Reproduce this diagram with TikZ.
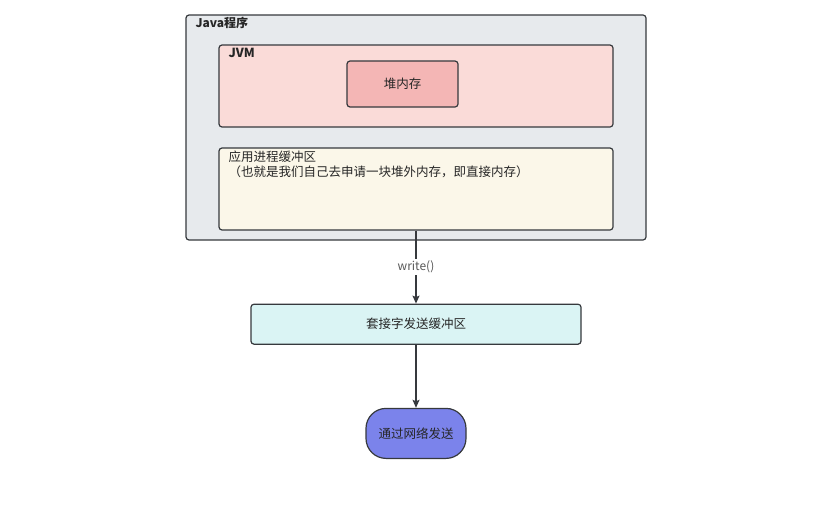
\documentclass[tikz,border=0pt]{standalone}
\usepackage{fontspec}
\setmainfont{Noto Sans CJK SC}
\usetikzlibrary{arrows.meta,positioning}
\definecolor{edge}{HTML}{36393D}
\definecolor{progfill}{HTML}{E7EAED}
\definecolor{jvmfill}{HTML}{FADBD8}
\definecolor{heapfill}{HTML}{F4B6B5}
\definecolor{appfill}{HTML}{FBF7E9}
\definecolor{sockfill}{HTML}{DAF4F4}
\definecolor{netfill}{HTML}{7B83EB}

\begin{document}
\begin{tikzpicture}[x=1pt, y=-1pt,
  box/.style={draw=edge, line width=1.2pt, rounded corners=3pt, inner sep=0pt, font=\fontsize{12.5}{15}\selectfont, text=black!85},
  lbl/.style={font=\fontsize{12.5}{15}\selectfont, text=black!85, align=left, inner sep=0pt},
  flow/.style={-{Stealth[length=8pt,width=7pt,inset=1.5pt]}, draw=edge, line width=1.2pt}]
\useasboundingbox (0,0) rectangle (838,514);
\node[box, fill=progfill, minimum width=460pt, minimum height=225pt] (prog) at (416,127.5) {};
\node[box, fill=jvmfill, minimum width=394pt, minimum height=82pt] (jvm) at (416,86) {};
\node[box, fill=heapfill, minimum width=111pt, minimum height=46pt] (heap) at (402.5,84) {堆内存};
\node[box, fill=appfill, minimum width=394pt, minimum height=82pt] (app) at (416,189) {};
\node[box, fill=sockfill, minimum width=330pt, minimum height=40pt, below=73pt of app] (sock) {套接字发送缓冲区};
\node[box, fill=netfill, rounded corners=20pt, minimum width=100pt, minimum height=50pt, below=63pt of sock] (net) {通过网络发送};
% box titles
\node[lbl, font=\bfseries\fontsize{12}{15}\selectfont, anchor=north west] at ([xshift=10pt,yshift=-3pt]prog.north west) {Java程序};
\node[lbl, font=\bfseries\fontsize{12.5}{15}\selectfont, anchor=north west] at ([xshift=10pt,yshift=-4pt]jvm.north west) {JVM};
\node[lbl, anchor=north west] at ([xshift=10pt,yshift=-3pt]app.north west) {应用进程缓冲区\\（也就是我们自己去申请一块堆外内存，即直接内存）};
% connectors
\draw[flow] (app) -- node[fill=white, text=black!65, font=\fontsize{12}{14}\selectfont, inner sep=2pt] {write()} (sock);
\draw[flow] (sock) -- (net);
\end{tikzpicture}
\end{document}
